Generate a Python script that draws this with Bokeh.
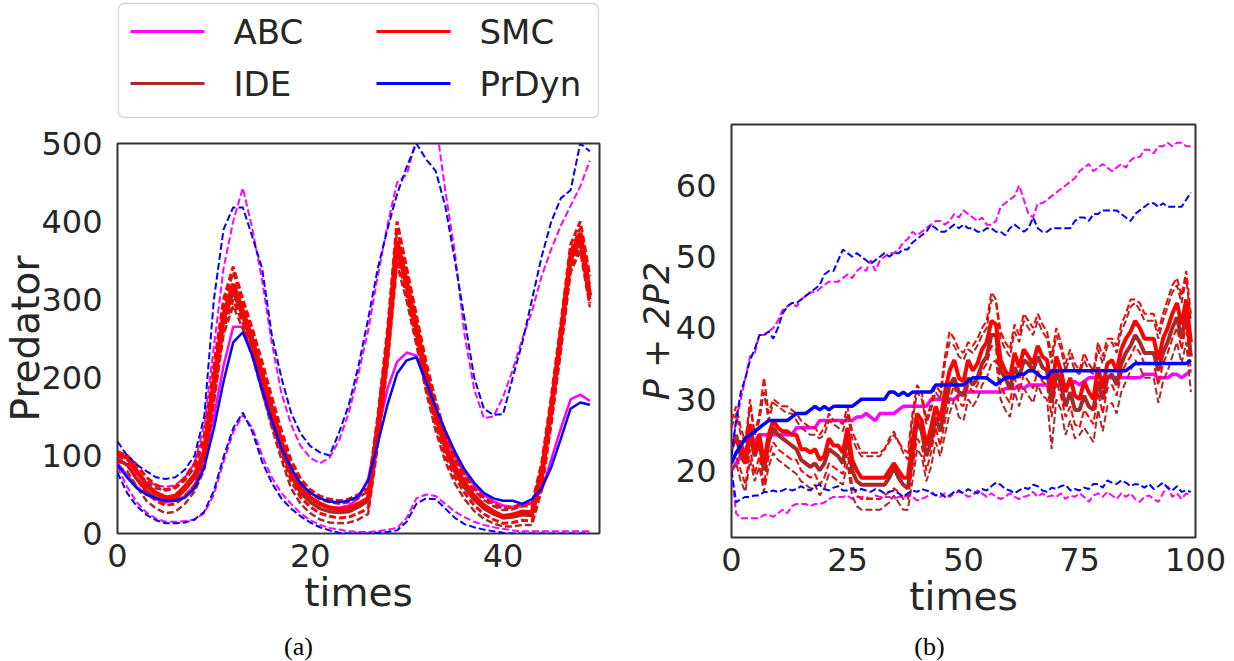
from bokeh.plotting import figure
from bokeh.layouts import row, column
from bokeh.models import Range1d, FixedTicker
from bokeh.core.properties import value
from bokeh.embed import file_html
from bokeh.resources import INLINE

# ---------------- data ----------------
methods = ["ABC", "IDE", "SMC", "PrDyn"]
captions = ["(a)", "(b)"]

left_xticks = [0, 20, 40]
left_yticks = [0, 100, 200, 300, 400, 500]
right_xticks = [0, 25, 50, 75, 100]
right_yticks = [20, 30, 40, 50, 60]

times_a = list(range(50))

abc_mean_a = [90, 75, 60, 50, 44, 40, 42, 48, 62, 95,
              150, 215, 265, 265, 228, 182, 140, 105, 78, 58,
              46, 38, 34, 33, 36, 45, 70, 130, 185, 220,
              232, 228, 192, 158, 126, 99, 78, 62, 50, 41,
              36, 34, 35, 40, 55, 95, 135, 172, 178, 170]
abc_upper_a = [100, 88, 76, 68, 62, 60, 62, 72, 90, 140,
               240, 340, 400, 443, 390, 325, 245, 180, 140, 112,
               97, 90, 97, 120, 155, 205, 260, 330, 395, 450,
               460, 505, 540, 530, 440, 360, 255, 185, 148, 150,
               175, 210, 250, 285, 330, 365, 395, 420, 445, 478]
abc_lower_a = [85, 60, 40, 27, 19, 15, 15, 16, 18, 26,
               50, 92, 130, 152, 135, 100, 72, 52, 38, 26,
               17, 11, 7, 5, 3, 2, 2, 3, 5, 7,
               20, 45, 50, 48, 38, 28, 21, 15, 11, 8,
               6, 4, 3, 3, 3, 3, 3, 3, 3, 3]

prdyn_mean_a = [88, 72, 58, 50, 45, 42, 42, 46, 58, 85,
                135, 195, 245, 258, 228, 185, 145, 110, 84, 64,
                52, 45, 41, 40, 42, 48, 68, 115, 165, 205,
                222, 226, 195, 162, 132, 105, 82, 65, 52, 45,
                42, 42, 38, 44, 58, 85, 122, 160, 168, 165]
prdyn_upper_a = [118, 100, 88, 80, 72, 70, 72, 82, 100, 150,
                 300, 390, 418, 418, 380, 340, 255, 200, 155, 128,
                 112, 104, 100, 130, 165, 215, 275, 340, 390, 435,
                 470, 500, 480, 465, 420, 350, 275, 200, 160, 152,
                 153, 200, 245, 300, 355, 400, 430, 440, 500, 490]
prdyn_lower_a = [78, 52, 35, 24, 17, 13, 13, 14, 18, 28,
                 55, 98, 135, 155, 130, 92, 65, 45, 32, 22,
                 14, 8, 4, 1, 0, 0, 0, 1, 2, 4,
                 15, 38, 45, 44, 32, 20, 12, 8, 5, 3,
                 1, 0, 0, 0, 0, 0, 0, 0, 0, 0]

smc_mean_a = [100, 98, 80, 62, 52, 46, 48, 60, 75, 105,
              195, 280, 320, 285, 248, 205, 160, 118, 80, 58,
              46, 38, 33, 31, 32, 38, 45, 135, 240, 375,
              322, 265, 205, 155, 115, 85, 65, 48, 36, 28,
              22, 24, 28, 27, 75, 160, 255, 355, 385, 305]
smc_upper_a = [105, 100, 88, 72, 62, 56, 60, 72, 90, 125,
               215, 300, 342, 300, 262, 220, 175, 132, 94, 70,
               56, 48, 44, 42, 44, 50, 58, 150, 260, 400,
               340, 280, 220, 170, 128, 98, 76, 58, 46, 38,
               32, 34, 38, 38, 90, 175, 270, 370, 400, 330]
smc_lower_a = [92, 90, 70, 52, 42, 36, 38, 48, 62, 90,
               175, 262, 300, 270, 235, 190, 145, 104, 68, 46,
               34, 26, 22, 20, 21, 26, 32, 120, 222, 355,
               305, 250, 190, 140, 100, 72, 52, 36, 25, 18,
               13, 14, 17, 16, 60, 145, 240, 340, 370, 295]

ide_mean_a = [95, 88, 70, 55, 46, 42, 44, 56, 72, 100,
              188, 272, 310, 278, 240, 198, 152, 110, 74, 52,
              40, 32, 28, 27, 28, 34, 42, 130, 232, 365,
              315, 258, 198, 148, 108, 79, 59, 43, 32, 25,
              20, 21, 24, 23, 70, 155, 250, 350, 375, 300]
ide_upper_a = [100, 95, 80, 66, 58, 55, 58, 68, 85, 118,
               205, 292, 335, 295, 256, 214, 170, 128, 90, 66,
               52, 44, 40, 38, 40, 46, 54, 145, 252, 390,
               335, 275, 215, 165, 124, 94, 72, 55, 43, 35,
               30, 31, 35, 35, 85, 170, 265, 362, 392, 320]
ide_lower_a = [85, 80, 60, 42, 32, 26, 28, 38, 54, 82,
               168, 255, 292, 262, 226, 182, 136, 95, 58, 38,
               26, 18, 14, 13, 14, 18, 25, 112, 215, 345,
               298, 242, 182, 132, 92, 64, 44, 29, 19, 13,
               9, 9, 11, 11, 55, 140, 235, 335, 362, 290]

times_b = list(range(100))

abc_mean_b = [20, 21, 22, 23, 24, 24, 25, 25, 25, 25,
              25, 25, 25, 25, 26, 26, 26, 26, 26, 27,
              27, 27, 27, 27, 27, 27, 27, 27.5, 27.5, 28,
              27.5, 27, 28, 28, 28, 28, 28.5, 29, 29, 29,
              29, 29, 29, 30, 30, 30, 30, 30, 30, 30.5,
              31, 31, 31, 31, 31, 31, 31, 31, 31, 31.5,
              31.5, 31.5, 32, 31.5, 32, 32, 32, 32, 32, 32,
              32, 32, 32, 32, 32.5, 32, 32.5, 33, 33, 33,
              33, 33, 33, 33, 33, 33, 33, 33, 33, 33.5,
              33.5, 33.5, 33, 33, 33, 33.5, 33.5, 33, 33.5, 34]
abc_upper_b = [23, 27, 30, 33, 36, 36.5, 39, 39, 39.5, 40,
               41, 42.5, 43, 43.5, 43, 44, 44.5, 45, 45, 45.5,
               46, 46.5, 46.5, 46.5, 47, 47.5, 47, 48, 48.5, 48,
               49.5, 48, 49.5, 50, 50.5, 50.5, 51, 52, 52.5, 53.5,
               53, 53.5, 54, 54.5, 55, 55, 54.5, 55, 56, 55.5,
               56.5, 56, 55.5, 55, 55.5, 54.5, 54.5, 55, 57, 57.5,
               58, 58.5, 60, 58, 56, 55.5, 57.5, 57.5, 58, 58.5,
               59, 59.5, 60, 60.5, 61, 62, 62.5, 63, 62, 62.5,
               63, 62.5, 62, 62.5, 63, 62.5, 63.5, 64, 64, 65,
               65, 64.5, 65.5, 65.5, 66, 65.5, 66, 66, 65.5, 65.5]
abc_lower_b = [20, 14, 13.3, 13.3, 13.3, 13.3, 13.3, 13.8, 13.8, 13.5,
               14, 14.5, 14, 15, 15.3, 15.3, 15.3, 15, 15.3, 15.3,
               15.5, 16, 16.3, 16.3, 16.3, 16.5, 16, 16.3, 16.3, 16.3,
               16, 16.5, 16.3, 16.3, 16.3, 16, 16.3, 16.3, 16.5, 16.3,
               15.8, 16, 16.3, 16.8, 16.5, 16.3, 16.8, 16.3, 16.8, 17,
               16.8, 16.3, 16.5, 17.2, 16.8, 16.3, 16.8, 16.3, 16, 16.3,
               16.8, 16.3, 16, 16.3, 16.5, 17, 16.3, 16.8, 16.3, 16.5,
               16.3, 16.8, 16, 16.5, 16.3, 16.8, 16.3, 15.6, 16.5, 16.8,
               16.3, 17, 16.5, 16, 16.8, 16.3, 16.8, 16, 15.6, 16.3,
               16.5, 16, 15.6, 16.8, 17.8, 16.3, 16.8, 16, 16.8, 16.5]

prdyn_mean_b = [21, 22.5, 23.5, 24.5, 25, 25.5, 26, 26.5, 27, 27,
                27, 27, 27, 27.5, 28, 28, 28, 28.5, 29, 28.5,
                29, 28.5, 29, 29, 29, 29, 29, 29.5, 30, 30,
                30, 30, 30, 30, 31, 31, 30.5, 31, 30.5, 31,
                31, 31, 31, 31, 32, 32, 32, 32, 32, 32,
                32, 32.5, 33, 33, 33, 33, 32.5, 32, 32.5, 33,
                33, 33, 33.5, 33.5, 34, 34, 33.5, 33, 33, 34,
                34, 34, 34, 34, 34, 34, 34, 34, 34, 34,
                34, 34, 34, 34, 34, 34, 34.5, 35, 35, 35,
                35, 35, 35, 35, 35, 35, 35, 35, 35, 35.5]
prdyn_upper_b = [22, 27, 31, 33, 35.5, 37, 39, 39, 39.5, 38.5,
                 40, 42, 43, 43.5, 43.5, 44, 44.5, 45, 45.5, 46,
                 47.5, 48, 48, 49.5, 51, 50.5, 50, 50.5, 50, 49.5,
                 49, 49.5, 50, 50.5, 50, 50.5, 50.5, 51, 51, 52,
                 52.5, 53, 53.5, 54.5, 54, 53.5, 53.5, 54, 54.5, 54,
                 54.5, 54, 54, 53.5, 53.5, 54, 54, 53.5, 53.5, 53,
                 54, 54.5, 54, 53.5, 54, 55.5, 54, 53.5, 53.5, 54,
                 54, 54, 54, 54, 55, 55.5, 55.5, 55, 56, 56,
                 56.5, 56.5, 56.5, 56.5, 56, 55.5, 55, 56, 56.5, 57,
                 57.5, 57.5, 57, 57.5, 57, 57, 57, 57, 58, 59]
prdyn_lower_b = [20, 15.5, 16, 16.3, 16.3, 16.5, 16.5, 17, 17, 17.2,
                 17, 17.2, 17.5, 17.2, 17.4, 17.8, 17.4, 17.2, 17.8, 18,
                 17.4, 17.2, 17.6, 17.8, 17.2, 17.2, 17.4, 17.2, 17.4, 17.2,
                 17, 17.4, 17.2, 16.8, 17, 17.2, 16.8, 16.3, 16.8, 17.2,
                 17, 17.4, 17.2, 17, 16.5, 16.8, 16.3, 16.5, 17, 17.2,
                 16.8, 17.4, 17, 16.8, 17.4, 17.2, 17.8, 18.3, 18, 17.4,
                 17.2, 16.8, 17.2, 17.6, 17.4, 18, 17.8, 17.2, 17, 17.6,
                 17.4, 17.8, 18, 17.2, 17.4, 17.2, 17.6, 17.4, 18.1, 18.1,
                 17.6, 18.6, 18.3, 18.1, 18.6, 18.3, 17.8, 18.1, 18, 17.6,
                 18.1, 17.4, 17.8, 18.3, 17.6, 17.2, 17.8, 17, 17.2, 17]

smc_mean_b = [24, 24, 24, 21, 26.5, 22.5, 25, 21, 25, 27,
              26, 25.5, 25.5, 25, 25, 23, 23, 22.5, 23, 21.5,
              22, 24.5, 23.5, 23.5, 22.5, 26, 21.5, 20, 19, 19,
              19, 19, 19, 19, 20, 21, 20, 19, 19, 24,
              28, 27, 23.5, 26, 29, 27, 31, 34, 35.5, 33,
              32.5, 35.5, 34, 35, 37, 38, 41, 40.5, 35.5, 34,
              33, 36.5, 34.5, 37, 36, 35, 37.5, 36, 35.5, 31.5,
              36, 34, 31, 33, 30.5, 30, 32.5, 31, 30, 34.5,
              31.5, 35, 35.5, 34, 37, 38.5, 39.5, 41, 40, 38.5,
              38.5, 38.5, 35.5, 38.5, 40, 42, 43.5, 40.5, 44, 38]
smc_upper_b = [27, 29, 26, 24, 30, 25, 28, 33, 28, 30,
               29.5, 29, 29, 28.5, 28, 27, 26.5, 26, 26, 25,
               26, 28, 27, 27, 26.5, 29, 25.5, 24, 22.5, 22.5,
               22.5, 22.5, 22.5, 23, 24, 25, 24, 23, 22.5, 28,
               32, 31, 27, 29.5, 32, 31, 36, 39.5, 38.5, 37,
               36.5, 38, 37.5, 38.5, 40, 41, 45, 44, 39.5, 38,
               37, 40.5, 39, 42, 41, 40, 42, 40.5, 39.5, 36,
               40, 38, 35, 37, 35, 34, 36.5, 35, 34, 38,
               36, 38.5, 38.5, 37.5, 40.5, 42, 44, 44, 43.5, 42,
               42, 42, 39.5, 42, 44, 46, 47, 44.5, 48, 42]
smc_lower_b = [21, 22, 20, 18, 23, 19.5, 22, 18, 22, 24,
               23, 22.5, 22, 21.5, 21.5, 20, 19.5, 19, 19.5, 18,
               19, 21, 20.5, 20, 19.5, 22.5, 18, 16.5, 16, 16,
               16, 16, 16, 16.5, 17, 17.5, 17, 16, 16, 20.5,
               24.5, 23.5, 20, 22.5, 26, 23.5, 27, 30, 32, 29.5,
               29, 32, 31, 32, 34, 35, 37.5, 37, 32, 30.5,
               29.5, 33, 31, 33.5, 32.5, 31.5, 34, 32.5, 32, 27.5,
               32.5, 30.5, 27.5, 29, 26.5, 26, 28.5, 27.5, 26.5, 31,
               28, 31.5, 32, 30.5, 33.5, 35, 36, 37.5, 36.5, 35,
               35, 35, 32, 35, 36.5, 38.5, 40, 37, 40.5, 34]

ide_mean_b = [23, 25, 22, 21, 25, 22, 24, 20, 24, 26,
              25, 24.5, 24, 23.5, 23, 21.5, 21, 20.5, 21, 20,
              21, 23, 22.5, 22, 21, 25, 20, 18.5, 18, 18,
              18, 18, 18, 18, 19, 20.5, 19, 18, 17.5, 22,
              27, 25.5, 22, 24, 27.5, 25.5, 29, 32, 33, 31,
              30.5, 33, 32, 33, 35, 36, 39, 39, 34, 33,
              31.5, 34.5, 33, 35.5, 35, 34, 36, 34.5, 34, 29.5,
              34, 32, 29, 31, 28.5, 28.5, 30.5, 29, 28.5, 32.5,
              30, 33, 33.5, 32, 35, 36.5, 37.5, 39, 38, 36.5,
              36.5, 36.5, 34, 36.5, 38, 40, 41.5, 38.5, 42, 36]
ide_upper_b = [26, 28, 25, 24, 29, 25, 27, 31, 27, 29.5,
               29, 28.5, 28, 28, 27, 26, 25.5, 25, 25, 24.5,
               25, 27, 26.5, 26, 25.5, 28, 24.5, 23, 22, 22,
               22, 22, 22, 23, 24.5, 25.5, 24, 22.5, 21.5, 27,
               31, 30, 26.5, 28.5, 31, 30, 35, 38, 37.5, 36,
               35.5, 37, 36.5, 37.5, 39, 40, 44, 43.5, 38.5, 37,
               36, 39.5, 38, 41, 40, 39, 41, 39.5, 38.5, 35,
               39, 37, 34, 36, 34, 33.5, 35.5, 34, 33.5, 37,
               35, 37.5, 38, 36.5, 39.5, 41, 43, 43.5, 42.5, 41,
               41, 41, 38.5, 41, 43, 45, 46, 43.5, 47, 41]
ide_lower_b = [20, 21, 18.5, 17, 21.5, 18.5, 20.5, 17, 20.5, 22.5,
               21.5, 21, 20.5, 20, 19.5, 18.5, 18, 17.5, 18, 16.5,
               17.5, 19.5, 19, 18.5, 18, 21, 16.5, 15, 14.5, 14.5,
               14.5, 14.5, 14.5, 15, 15.5, 16.5, 15.5, 14.5, 14.5, 18.5,
               23, 22, 18.5, 20.5, 24, 22, 25, 28, 30, 27.5,
               27, 30, 29, 30, 32, 33, 35, 35.5, 30, 28.5,
               27.5, 31, 29, 31.5, 30.5, 29.5, 32, 30.5, 30, 23,
               30, 28.5, 25, 27, 24.5, 25, 26, 25, 24, 28.5,
               25.5, 29, 29.5, 28, 31, 32.5, 34, 35.5, 34.5, 33,
               33, 33, 29.5, 32.5, 34, 36, 38, 35, 38, 31]

# ---------------- styling ----------------
COLORS = {"ABC": "#ff00ff", "IDE": "#a52a2a", "SMC": "#ff0000", "PrDyn": "#0000ff"}
TEXT = "#262626"
FONT = "DejaVu Sans"


def make_panel(width, height, xr, yr, borders, xticks, yticks, xlabel, ylabel,
               ylabel_size, ylabel_style, ylabel_standoff):
    p = figure(width=width, height=height, x_range=Range1d(*xr), y_range=Range1d(*yr),
               toolbar_location=None, output_backend="svg",
               min_border_left=borders[0], min_border_right=borders[1],
               min_border_top=borders[2], min_border_bottom=borders[3])
    p.grid.visible = False
    p.outline_line_color = "#333333"
    p.outline_line_width = 2
    p.background_fill_color = "white"
    p.border_fill_color = "white"
    p.xaxis.ticker = FixedTicker(ticks=xticks)
    p.yaxis.ticker = FixedTicker(ticks=yticks)
    for ax in p.axis:
        ax.axis_line_color = None
        ax.major_tick_line_color = None
        ax.minor_tick_line_color = None
        ax.major_label_text_font = FONT
        ax.major_label_text_font_size = "32px"
        ax.major_label_text_color = TEXT
        ax.axis_label_text_font = FONT
        ax.axis_label_text_color = TEXT
    p.xaxis.axis_label = xlabel
    p.xaxis.axis_label_text_font_size = "39px"
    p.xaxis.axis_label_text_font_style = "normal"
    p.xaxis.major_label_standoff = 4
    p.xaxis.axis_label_standoff = 0
    p.yaxis.axis_label = ylabel
    p.yaxis.axis_label_text_font_size = ylabel_size
    p.yaxis.axis_label_text_font_style = ylabel_style
    p.yaxis.major_label_standoff = 9
    p.yaxis.axis_label_standoff = ylabel_standoff
    return p


def draw(p, t, series, mean_w, band_w):
    for m in methods:
        lo, mean, hi = series[m]
        for band in (hi, lo):
            p.line(t, band, line_color=COLORS[m], line_width=band_w[m], line_dash="7 3")
        p.line(t, mean, line_color=COLORS[m], line_width=mean_w[m])


def strip(width, height, left, right, frame_w):
    """A blank strip whose frame lines up with the panel above/below it."""
    s = figure(width=width, height=height, x_range=Range1d(0, frame_w),
               y_range=Range1d(height, 0), toolbar_location=None, output_backend="svg",
               x_axis_location=None, y_axis_location=None, min_border_left=left,
               min_border_right=right, min_border_top=0, min_border_bottom=0)
    s.grid.visible = False
    s.outline_line_color = None
    s.background_fill_color = "white"
    s.border_fill_color = "white"
    return s


# ---------------- legend strip (frame aligned with panel a) ----------------
leg = strip(605, 120, 117, 6, 482)
leg.quad(left=[0.8], right=[481], top=[3], bottom=[117], fill_color="white",
         line_color="#d4d4d4", line_width=1.3, border_radius=6)
col_x = [13, 13, 259, 259]
row_y = [31, 83, 31, 83]
leg.segment(x0=col_x, y0=row_y, x1=[c + 74 for c in col_x], y1=row_y,
            line_color=[COLORS[m] for m in methods], line_width=3.2)
leg.text(x=[c + 103 for c in col_x], y=row_y, text=methods, text_font=value(FONT),
         text_font_size="34px", text_baseline="middle", text_align="left", text_color=TEXT)

# ---------------- panel (a) ----------------
pa = make_panel(605, 513, (0, 50), (0, 500), (117, 6, 23, 100), left_xticks, left_yticks,
                "times", "Predator", "39px", "normal", -10)
draw(pa, times_a, {
    "ABC": (abc_lower_a, abc_mean_a, abc_upper_a),
    "IDE": (ide_lower_a, ide_mean_a, ide_upper_a),
    "SMC": (smc_lower_a, smc_mean_a, smc_upper_a),
    "PrDyn": (prdyn_lower_a, prdyn_mean_a, prdyn_upper_a),
}, {"ABC": 2.5, "IDE": 3.5, "SMC": 4.5, "PrDyn": 2.5},
   {"ABC": 2, "IDE": 2.5, "SMC": 3, "PrDyn": 2})

cap_a = strip(605, 28, 117, 6, 482)
cap_a.text(x=[181], y=[13], text=[captions[0]], text_font=value("Liberation Serif"),
           text_font_size="26px", text_align="center", text_baseline="middle",
           text_color="black")

# ---------------- panel (b) ----------------
pb = make_panel(629, 633, (0, 100), (10.6, 68.55), (126, 39, 124, 96), right_xticks,
                right_yticks, "times", "P + 2P2", "35px", "italic", -4)
draw(pb, times_b, {
    "ABC": (abc_lower_b, abc_mean_b, abc_upper_b),
    "IDE": (ide_lower_b, ide_mean_b, ide_upper_b),
    "SMC": (smc_lower_b, smc_mean_b, smc_upper_b),
    "PrDyn": (prdyn_lower_b, prdyn_mean_b, prdyn_upper_b),
}, {"ABC": 3.5, "IDE": 4, "SMC": 4, "PrDyn": 3.5},
   {"ABC": 2, "IDE": 2, "SMC": 2, "PrDyn": 2})

cap_b = strip(629, 28, 126, 39, 464)
cap_b.text(x=[198], y=[13], text=[captions[1]], text_font=value("Liberation Serif"),
           text_font_size="26px", text_align="center", text_baseline="middle",
           text_color="black")

layout = row(column(leg, pa, cap_a), column(pb, cap_b))
open("out.html", "w").write(file_html(layout, INLINE))
